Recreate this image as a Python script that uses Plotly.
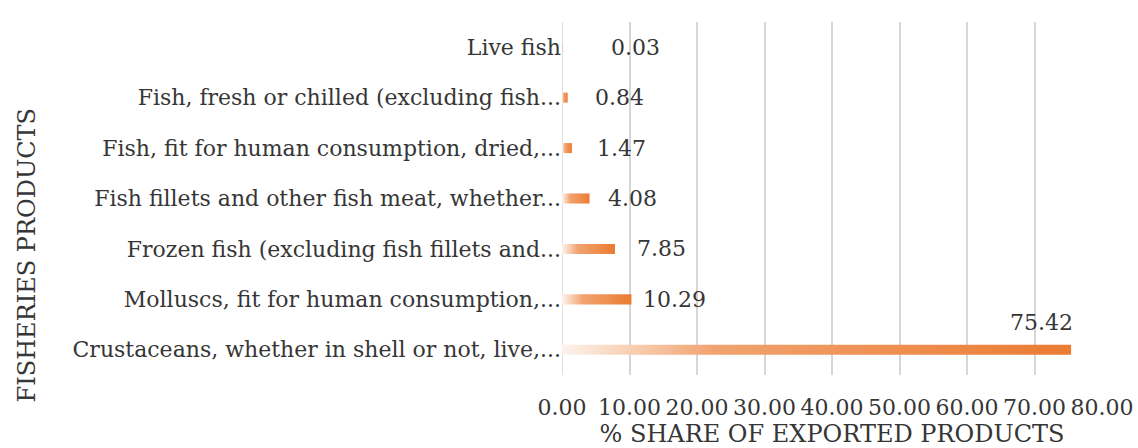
import plotly.graph_objects as go

# Fisheries export shares (%), listed bottom to top
categories = [
    "Crustaceans, whether in shell or not, live,...",
    "Molluscs, fit for human consumption,...",
    "Frozen fish (excluding fish fillets and...",
    "Fish fillets and other fish meat, whether...",
    "Fish, fit for human consumption, dried,...",
    "Fish, fresh or chilled (excluding fish...",
    "Live fish",
]
shares = [75.42, 10.29, 7.85, 4.08, 1.47, 0.84, 0.03]
tick_values = [0, 10, 20, 30, 40, 50, 60, 70, 80]
tick_labels = ["0.00", "10.00", "20.00", "30.00", "40.00", "50.00", "60.00", "70.00", "80.00"]

# label placement (pixels) relative to each bar end
label_dx = [-30, 43, 47, 43, 50, 52, 73]
label_dy = [27, 0, 0, 0, 0, 0, 0]

FONT = "DejaVu Serif"
TXT = "#363636"
half = 0.1  # half bar thickness in category units

fig = go.Figure()
gradient = [[0.0, "#fdf3ec"], [0.3, "#f1a36f"], [1.0, "#eb7b32"]]
for i, v in enumerate(shares):
    fig.add_trace(go.Scatter(
        x=[0, v, v, 0, 0],
        y=[i - half, i - half, i + half, i + half, i - half],
        mode="lines",
        line=dict(width=0),
        fill="toself",
        fillgradient=dict(type="horizontal", colorscale=gradient),
        hoverinfo="skip",
        showlegend=False,
    ))

for i, v in enumerate(shares):
    fig.add_annotation(
        x=v, y=i, text=f"{v:.2f}", showarrow=False,
        xanchor="center", yanchor="middle",
        xshift=label_dx[i], yshift=label_dy[i],
        font=dict(family=FONT, size=22, color=TXT),
    )

fig.add_annotation(
    xref="paper", yref="paper", x=-0.99, y=0.34,
    text="FISHERIES PRODUCTS", textangle=-90, showarrow=False,
    xanchor="center", yanchor="middle",
    font=dict(family=FONT, size=24, color=TXT),
)

fig.update_layout(
    width=1138, height=448,
    margin=dict(l=562, r=36, t=22, b=73),
    paper_bgcolor="white", plot_bgcolor="white",
    xaxis=dict(
        range=[0, 80], tickvals=tick_values, ticktext=tick_labels,
        tickangle=0, automargin=False,
        showgrid=True, gridcolor="#d6d6d6", gridwidth=1.5,
        zeroline=False, showline=False, ticks="", ticklabelstandoff=17,
        tickfont=dict(family=FONT, size=22, color=TXT),
        title=dict(text="% SHARE OF EXPORTED PRODUCTS",
                   font=dict(family=FONT, size=24, color=TXT), standoff=3),
    ),
    yaxis=dict(
        range=[-0.5, 6.5], tickvals=list(range(len(categories))), ticktext=categories,
        automargin=False,
        showgrid=False, zeroline=False, showline=False, ticks="",
        tickfont=dict(family=FONT, size=22, color=TXT),
    ),
)
fig.add_vline(x=0, line=dict(color="#d6d6d6", width=1.5), layer="below")

fig.write_html("out.html")
